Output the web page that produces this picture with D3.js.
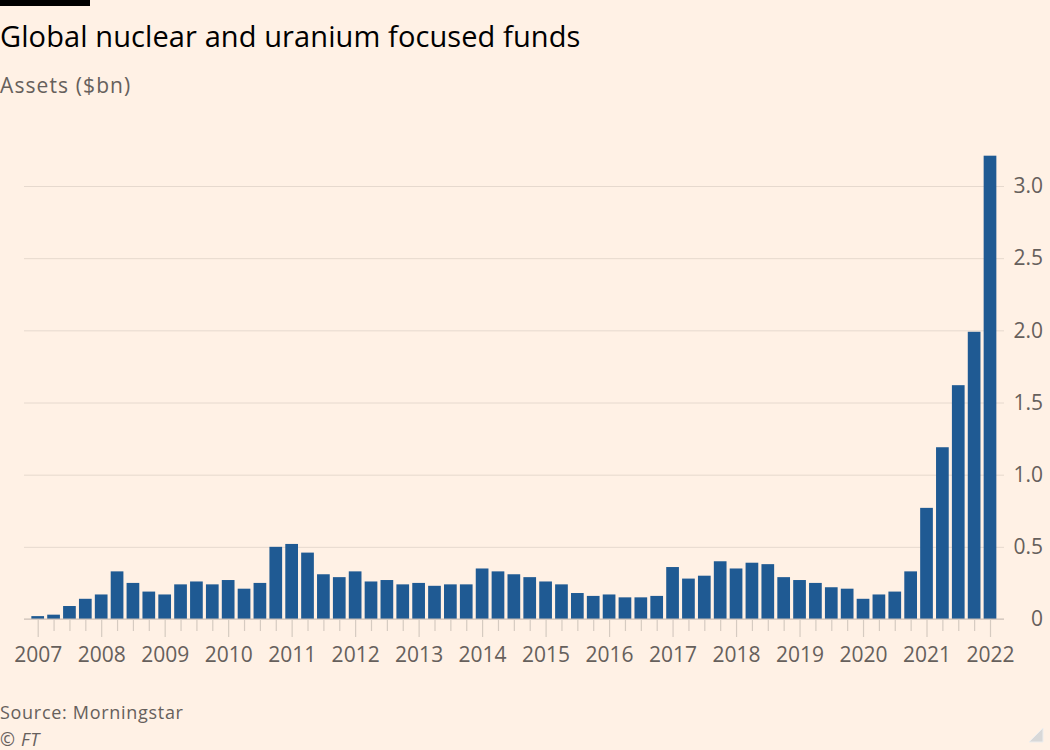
<!DOCTYPE html>
<html>
<head>
<meta charset="utf-8">
<script src="https://cdn.jsdelivr.net/npm/d3@7"></script>
<style>
  html, body { margin: 0; padding: 0; background: #fff1e5; }
  svg { display: block; }
  text { font-family: "Open Sans", sans-serif; }
</style>
</head>
<body>
<svg id="chart" width="1050" height="750"></svg>
<script>
// ---- Data ----
const periods = [
  "2007 Q1","2007 Q2","2007 Q3","2007 Q4",
  "2008 Q1","2008 Q2","2008 Q3","2008 Q4",
  "2009 Q1","2009 Q2","2009 Q3","2009 Q4",
  "2010 Q1","2010 Q2","2010 Q3","2010 Q4",
  "2011 Q1","2011 Q2","2011 Q3","2011 Q4",
  "2012 Q1","2012 Q2","2012 Q3","2012 Q4",
  "2013 Q1","2013 Q2","2013 Q3","2013 Q4",
  "2014 Q1","2014 Q2","2014 Q3","2014 Q4",
  "2015 Q1","2015 Q2","2015 Q3","2015 Q4",
  "2016 Q1","2016 Q2","2016 Q3","2016 Q4",
  "2017 Q1","2017 Q2","2017 Q3","2017 Q4",
  "2018 Q1","2018 Q2","2018 Q3","2018 Q4",
  "2019 Q1","2019 Q2","2019 Q3","2019 Q4",
  "2020 Q1","2020 Q2","2020 Q3","2020 Q4",
  "2021 Q1","2021 Q2","2021 Q3","2021 Q4",
  "2022 Q1"
];
const assets = [
  0.02, 0.03, 0.09, 0.14,
  0.17, 0.33, 0.25, 0.19,
  0.17, 0.24, 0.26, 0.24,
  0.27, 0.21, 0.25, 0.50,
  0.52, 0.46, 0.31, 0.29,
  0.33, 0.26, 0.27, 0.24,
  0.25, 0.23, 0.24, 0.24,
  0.35, 0.33, 0.31, 0.29,
  0.26, 0.24, 0.18, 0.16,
  0.17, 0.15, 0.15, 0.16,
  0.36, 0.28, 0.30, 0.40,
  0.35, 0.39, 0.38, 0.29,
  0.27, 0.25, 0.22, 0.21,
  0.14, 0.17, 0.19, 0.33,
  0.77, 1.19, 1.62, 1.99,
  3.21
];
const yearLabels = ["2007","2008","2009","2010","2011","2012","2013","2014","2015","2016","2017","2018","2019","2020","2021","2022"];
const yTicks = [0, 0.5, 1.0, 1.5, 2.0, 2.5, 3.0];

// ---- Layout ----
const svg = d3.select("#chart");
svg.append("rect").attr("width", 1050).attr("height", 750).attr("fill", "#fff1e5");

const plotLeft = 24, plotRight = 1004;
const x = d3.scaleLinear().domain([0, periods.length - 1]).range([37.7, 990]);
const y = d3.scaleLinear().domain([0, 3]).range([619, 186]);
const barW = 12.7;
const axisFont = "Lato, 'Open Sans', sans-serif";

// Top black bar
svg.append("rect").attr("x", 0).attr("y", 0).attr("width", 90).attr("height", 6).attr("fill", "#000");

// Title & subtitle
svg.append("text").attr("x", 0).attr("y", 47)
  .attr("font-size", 29).attr("fill", "#000")
  .attr("letter-spacing", 0.1)
  .text("Global nuclear and uranium focused funds");
svg.append("text").attr("x", 0).attr("y", 93)
  .attr("font-size", 21).attr("fill", "#66605c")
  .attr("letter-spacing", 1.1)
  .text("Assets ($bn)");

// Gridlines + y labels (right side)
const yAxis = d3.axisRight(y).tickValues(yTicks)
  .tickFormat(d => d === 0 ? "0" : d3.format(".1f")(d))
  .tickSize(plotRight - plotLeft).tickPadding(0);
const gy = svg.append("g").attr("transform", `translate(${plotLeft},0)`).call(yAxis);
gy.select(".domain").remove();
gy.selectAll(".tick line").attr("stroke", "#e6d9ce").attr("stroke-width", 1);
gy.selectAll(".tick text")
  .attr("x", 1043 - plotLeft).attr("text-anchor", "end")
  .attr("font-size", 21).attr("fill", "#66605c")
  .attr("font-family", axisFont);

// Bars
svg.append("g").selectAll("rect").data(assets).join("rect")
  .attr("x", (d, i) => x(i) - barW / 2)
  .attr("y", d => y(d))
  .attr("width", barW)
  .attr("height", d => y(0) - y(d))
  .attr("fill", "#1f5a93");

// Baseline
svg.append("line").attr("x1", plotLeft).attr("x2", plotRight)
  .attr("y1", y(0)).attr("y2", y(0))
  .attr("stroke", "#c9beb5").attr("stroke-width", 1);

// X axis ticks (quarters) and year labels
const xAxis = d3.axisBottom(x)
  .tickValues(d3.range(periods.length))
  .tickSize(12)
  .tickFormat(i => periods[i].endsWith("Q1") ? periods[i].slice(0, 4) : "");
const gx = svg.append("g").attr("transform", `translate(0,${y(0)})`).call(xAxis);
gx.select(".domain").remove();
gx.selectAll(".tick line")
  .attr("stroke", "#d6cbc1").attr("stroke-width", 1.2)
  .attr("y2", i => periods[i].endsWith("Q1") ? 18 : 12);
gx.selectAll(".tick text")
  .attr("y", 28).attr("dy", "0.71em")
  .attr("font-size", 21).attr("fill", "#66605c")
  .attr("font-family", axisFont);

// Footer
svg.append("text").attr("x", 0).attr("y", 719)
  .attr("font-size", 18).attr("fill", "#66605c")
  .attr("letter-spacing", 0.7)
  .text("Source: Morningstar");
svg.append("text").attr("x", 0).attr("y", 746)
  .attr("font-size", 18).attr("fill", "#66605c").attr("font-style", "italic")
  .attr("letter-spacing", 0.7)
  .text("© FT");

// Corner resize glyph
svg.append("path").attr("d", "M1029,742 L1043,742 L1043,728 Z")
  .attr("fill", "#d8d8d8").attr("stroke", "#eeeeee").attr("stroke-width", 1);
</script>
</body>
</html>
